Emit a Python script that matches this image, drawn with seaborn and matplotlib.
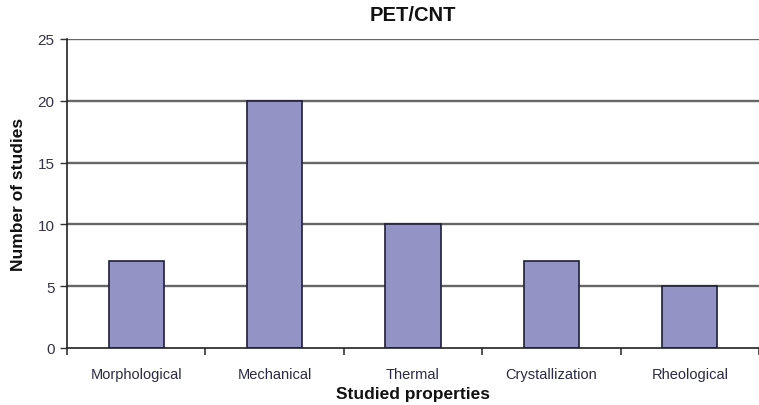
import matplotlib
matplotlib.use("Agg")
import matplotlib.pyplot as plt
import seaborn as sns
import pandas as pd
from matplotlib.ticker import FixedLocator

categories = ["Morphological", "Mechanical", "Thermal", "Crystallization", "Rheological"]
studies = [7, 20, 10, 7, 5]
y_ticks = [0, 5, 10, 15, 20, 25]

sns.set_theme(style="white")
plt.rcParams["font.family"] = ["Liberation Sans", "DejaVu Sans"]

df = pd.DataFrame({"property": categories, "count": studies})

fig = plt.figure(figsize=(7.59, 4.06), dpi=100)
ax = fig.add_axes([0.0883, 0.1404, 0.9117, 0.7611])

for y in y_ticks[1:]:
    ax.axhline(y, color="#666666", lw=1.7, zorder=0)

sns.barplot(data=df, x="property", y="count", ax=ax, width=0.4,
            color="#9393c6", saturation=1, edgecolor="#1e1e3c", linewidth=1.2, zorder=2)

ax.set_xlim(-0.5, 4.5)
ax.set_ylim(0, 25)
ax.set_yticks(y_ticks)
ax.set_yticklabels([str(v) for v in y_ticks], fontsize=11, color="#333344")
ax.tick_params(axis="y", which="major", left=True, length=5, width=1, color="#333333", pad=4)
ax.tick_params(axis="x", which="major", bottom=False, length=0, pad=14, labelsize=10.5, labelcolor="#2a2a44")
ax.xaxis.set_minor_locator(FixedLocator([-0.5, 0.5, 1.5, 2.5, 3.5, 4.5]))
ax.tick_params(axis="x", which="minor", bottom=True, length=5, width=1.2, color="#333333", direction="out")

for side in ["top", "right"]:
    ax.spines[side].set_visible(False)
ax.spines["left"].set_color("#222222")
ax.spines["left"].set_linewidth(1.2)
ax.spines["bottom"].set_color("#222222")
ax.spines["bottom"].set_linewidth(1.2)

ax.set_title("PET/CNT", fontsize=14.5, fontweight="bold", color="#111111", pad=14)
ax.set_xlabel("Studied properties", fontsize=12.5, fontweight="bold", color="#111111", labelpad=3)
ax.set_ylabel("Number of studies", fontsize=12.5, fontweight="bold", color="#111111", labelpad=8)

fig.savefig("out.png", dpi=100)
